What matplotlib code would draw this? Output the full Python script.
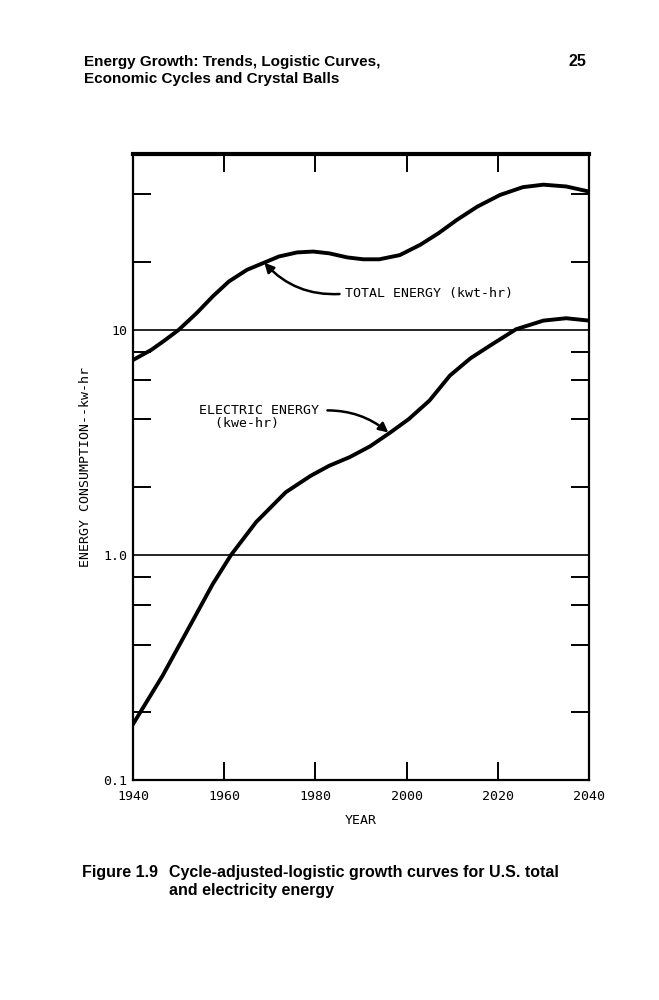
import matplotlib
matplotlib.use("Agg")
import matplotlib.pyplot as plt
import numpy as np
from matplotlib.ticker import FixedLocator, FixedFormatter

# values
total_years = [1940, 1944, 1947, 1950, 1954, 1957.5, 1961, 1965, 1968.5, 1972,
               1976, 1979.5, 1983, 1987, 1990.5, 1994, 1998.5, 2003, 2007, 2011,
               2015.5, 2020.5, 2025.5, 2030, 2035, 2040]
total = [7.35, 8.15, 9.0, 10.0, 11.9, 14.1, 16.4, 18.5, 19.8, 21.2,
         22.1, 22.3, 21.9, 21.0, 20.6, 20.6, 21.5, 23.9, 26.9, 30.8,
         35.3, 39.8, 43.1, 44.2, 43.4, 41.2]
elec_years = [1940, 1946.5, 1952.5, 1957.5, 1961.5, 1967, 1973.5, 1979, 1983,
              1987.5, 1992, 1996.5, 2000.5, 2005, 2009.5, 2014, 2018.5, 2024,
              2030, 2035, 2040]
electric = [0.177, 0.291, 0.485, 0.743, 1.0, 1.40, 1.90, 2.25, 2.49,
            2.72, 3.04, 3.51, 4.02, 4.85, 6.27, 7.48, 8.57, 10.07,
            11.0, 11.27, 11.0]

year_ticks = [1940, 1960, 1980, 2000, 2020, 2040]
y_major = [0.1, 1.0, 10]
y_major_labels = ["0.1", "1.0", "10"]
y_minor = [0.2, 0.4, 0.6, 0.8, 2, 4, 6, 8, 20, 40]

mono = "DejaVu Sans Mono"
sans = "Liberation Sans"

fig = plt.figure(figsize=(6.59, 10), dpi=100)
ax = fig.add_axes([0.2018, 0.22, 0.692, 0.626])

ax.plot(total_years, total, color="black", lw=2.8, solid_joinstyle="round")
ax.plot(elec_years, electric, color="black", lw=2.8, solid_joinstyle="round")
ax.axhline(10, color="black", lw=1.2)
ax.axhline(1.0, color="black", lw=1.2)

ax.set_yscale("log")
ax.set_xlim(1940, 2040)
ax.set_ylim(0.1, 60.5)

ax.yaxis.set_major_locator(FixedLocator(y_major))
ax.yaxis.set_major_formatter(FixedFormatter(y_major_labels))
ax.yaxis.set_minor_locator(FixedLocator(y_minor))
ax.yaxis.set_minor_formatter(FixedFormatter([""] * len(y_minor)))
ax.tick_params(axis="y", which="major", length=0, pad=4, labelsize=9.5)
ax.tick_params(axis="y", which="minor", direction="in", length=13, width=1.4,
               left=True, right=True)

ax.set_xticks(year_ticks)
ax.set_xticklabels([str(y) for y in year_ticks])
ax.tick_params(axis="x", direction="in", length=13, width=1.4, top=True,
               bottom=True, labelsize=9.5, pad=7)

for lab in ax.get_xticklabels() + ax.get_yticklabels():
    lab.set_family(mono)

for side in ["left", "right", "bottom"]:
    ax.spines[side].set_linewidth(1.6)
ax.spines["top"].set_linewidth(3.0)

ax.set_xlabel("YEAR", family=mono, fontsize=9.5, labelpad=8)
ax.set_ylabel("ENERGY CONSUMPTION--kw-hr", family=mono, fontsize=9.5, labelpad=8)

ax.annotate("TOTAL ENERGY (kwt-hr)", xy=(1968.8, 19.9), xytext=(1986.5, 14.5),
            family=mono, fontsize=9.5, va="center", ha="left",
            arrowprops=dict(arrowstyle="-|>", color="black", lw=1.8,
                            connectionstyle="arc3,rad=-0.25",
                            relpos=(0.0, 0.5),
                            shrinkA=2, shrinkB=0, mutation_scale=14))
ax.annotate("ELECTRIC ENERGY\n  (kwe-hr)", xy=(1996.0, 3.5), xytext=(1954.5, 4.1),
            family=mono, fontsize=9.5, va="center", ha="left", linespacing=0.95,
            arrowprops=dict(arrowstyle="-|>", color="black", lw=1.8,
                            connectionstyle="arc3,rad=-0.2",
                            relpos=(1.0, 0.75),
                            shrinkA=4, shrinkB=0, mutation_scale=14))

fig.text(0.127, 0.9295, "Energy Growth: Trends, Logistic Curves,\nEconomic Cycles and Crystal Balls",
         family=sans, fontweight="bold", fontsize=11, va="center", ha="left",
         linespacing=1.25)
fig.text(0.89, 0.939, "25", family=sans, fontweight="bold", fontsize=11.5,
         va="center", ha="right")
fig.text(0.125, 0.128, "Figure 1.9", family=sans, fontweight="bold", fontsize=11.5,
         va="center", ha="left")
fig.text(0.257, 0.1185, "Cycle-adjusted-logistic growth curves for U.S. total\nand electricity energy",
         family=sans, fontweight="bold", fontsize=11.5, va="center", ha="left",
         linespacing=1.2)

fig.savefig("out.png", dpi=100)
